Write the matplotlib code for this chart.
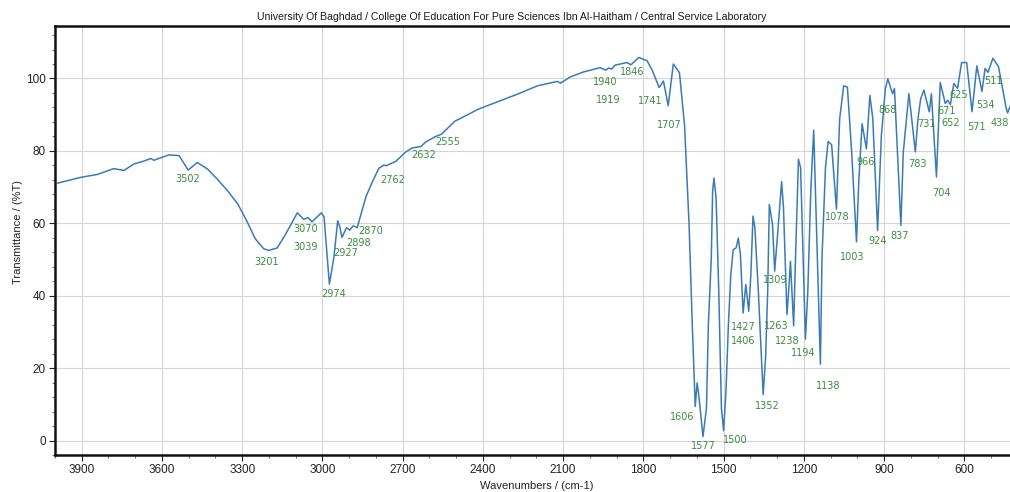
import matplotlib
matplotlib.use("Agg")
import matplotlib.pyplot as plt
from matplotlib.ticker import MultipleLocator
from matplotlib import font_manager

# ---------------- spectrum (wavenumber in cm-1, transmittance in %T) ----------------
wavenumber = [
    3990, 3903, 3842, 3780, 3742, 3705, 3667, 3642, 3630, 3605, 3574, 3536,
    3502, 3468, 3430, 3393, 3355, 3317, 3284, 3251, 3220, 3201, 3169, 3140,
    3116, 3094, 3070, 3054, 3039, 3004, 2994, 2974, 2957, 2943, 2935, 2927,
    2910, 2898, 2885, 2870, 2862, 2837, 2813, 2789, 2770, 2762, 2726, 2690,
    2665, 2632, 2615, 2579, 2555, 2505, 2467, 2418, 2369, 2270, 2195, 2121,
    2110, 2074, 2024, 1962, 1940, 1930, 1919, 1905, 1862, 1846, 1817, 1786,
    1767, 1741, 1725, 1707, 1688, 1665, 1646, 1629, 1617, 1606, 1599, 1593,
    1577, 1564, 1557, 1546, 1541, 1536, 1528, 1518, 1508, 1500, 1491, 1482,
    1473, 1464, 1453, 1445, 1437, 1427, 1417, 1406, 1398, 1390, 1383, 1370,
    1352, 1343, 1335, 1329, 1317, 1309, 1299, 1283, 1276, 1263, 1255, 1250,
    1238, 1231, 1220, 1212, 1194, 1185, 1174, 1163, 1138, 1132, 1119, 1109,
    1096, 1078, 1066, 1051, 1037, 1021, 1003, 994, 982, 966, 953, 942,
    924, 910, 895, 886, 868, 861, 837, 828, 807, 783, 773, 763,
    751, 731, 723, 704, 698, 690, 671, 662, 652, 639, 625, 610,
    591, 571, 553, 534, 522, 511, 493, 472, 443, 438, 425,
]
transmittance = [
    71.1, 72.7, 73.5, 75.1, 74.6, 76.4, 77.2, 77.9, 77.4, 78.1, 78.9, 78.7,
    74.7, 76.8, 75.0, 72.2, 69.0, 65.4, 60.8, 55.7, 53.0, 52.5, 53.2, 56.7,
    59.9, 62.9, 61.1, 61.6, 60.4, 62.9, 61.8, 43.2, 50.7, 60.7, 59.0, 56.1,
    58.8, 58.1, 59.3, 58.8, 60.9, 67.4, 71.5, 75.2, 76.1, 75.9, 77.1, 79.6,
    80.8, 81.2, 82.4, 83.9, 84.6, 88.2, 89.6, 91.5, 92.9, 95.7, 98.0, 99.2,
    98.7, 100.4, 101.8, 103.0, 102.3, 102.9, 102.6, 103.7, 104.4, 103.8, 105.8, 104.9,
    102.3, 97.5, 99.3, 92.5, 104.0, 101.6, 87.2, 59.6, 31.9, 9.4, 15.9, 12.7,
    1.1, 8.9, 31.9, 50.4, 68.8, 72.5, 67.0, 41.2, 8.9, 2.7, 13.6, 32.0,
    45.8, 52.7, 53.2, 55.9, 51.3, 35.2, 43.1, 35.7, 45.8, 62.0, 58.8, 41.3,
    12.7, 22.9, 41.3, 65.2, 59.7, 46.8, 56.0, 71.5, 64.3, 34.8, 43.1, 49.5,
    31.7, 50.5, 77.7, 75.4, 28.0, 41.3, 68.9, 85.7, 21.1, 50.5, 75.4, 82.6,
    81.7, 63.9, 88.8, 98.0, 97.6, 79.6, 54.9, 72.2, 87.5, 80.6, 95.3, 88.9,
    58.0, 84.3, 97.2, 99.9, 95.8, 97.2, 59.4, 79.7, 95.8, 79.7, 88.9, 94.4,
    96.8, 90.8, 95.8, 72.8, 84.3, 98.9, 93.1, 94.0, 92.8, 98.6, 97.3, 104.4,
    104.4, 90.8, 103.5, 96.4, 102.8, 101.7, 105.6, 103.3, 91.7, 90.5, 93.0,
]

# ---------------- peak annotations ----------------
peak_labels = [
    3502, 3201, 3070, 3039, 2974, 2927, 2898, 2870, 2762, 2632, 2555,
    1940, 1919, 1846, 1741, 1707, 1606, 1577, 1500, 1427, 1406, 1352,
    1309, 1263, 1238, 1194, 1138, 1078, 1003, 966, 924, 868, 837, 783,
    731, 704, 671, 652, 625, 571, 534, 511, 438,
]
# text offsets from each peak, in pixels (dx, dy)
label_offsets = [
    (0, -9), (-2, -12), (2, -10), (-6, -25), (4, -10), (4, -16), (9, -13),
    (13, -3), (7, -14), (3, -8), (6, -8),
    (-1, -12), (-3, -31), (1, -7), (-9, -13), (1, -19), (-13, -11), (0, -9),
    (12, -9), (0, -14), (-6, -30), (4, -11),
    (1, -9), (-11, -11), (-6, -15), (-2, -14), (8, -22), (1, -8), (-4, -15),
    (-1, -13), (0, -10), (-5, -16), (-1, -11), (2, -12),
    (-3, -12), (5, -16), (1, -8), (0, -18), (1, -7), (4, -15), (4, -13),
    (5, -9), (-8, -10),
]

title = ("University Of Baghdad / College Of Education For Pure Sciences "
         "Ibn Al-Haitham / Central Service Laboratory")
x_ticks = [3900, 3600, 3300, 3000, 2700, 2400, 2100, 1800, 1500, 1200, 900, 600]
y_ticks = [0, 20, 40, 60, 80, 100]

installed = {f.name for f in font_manager.fontManager.ttflist}
narrow = "Liberation Sans Narrow" if "Liberation Sans Narrow" in installed else "Liberation Sans"

W, H = 1010, 492
fig = plt.figure(figsize=(W / 100, H / 100), dpi=100)
fig.patch.set_facecolor("white")
ax = fig.add_axes([55 / W, 1 - 455 / H, 1 - 55 / W, (455 - 26) / H])

ax.plot(wavenumber, transmittance, color="#3a7bb6", lw=1.1, zorder=3)
ax.set_xlim(4000, 429)
ax.set_ylim(-4, 114.5)

ax.set_xticks(x_ticks)
ax.set_xticklabels([str(v) for v in x_ticks])
ax.set_yticks(y_ticks)
ax.xaxis.set_minor_locator(MultipleLocator(100))
ax.yaxis.set_minor_locator(MultipleLocator(4))
ax.tick_params(axis="both", which="major", direction="out", length=4, width=0.8,
               labelsize=8.5, colors="#222222", pad=2.5)
ax.tick_params(axis="both", which="minor", direction="out", length=2, width=0.6,
               colors="#555555")
for lab in ax.get_xticklabels() + ax.get_yticklabels():
    lab.set_family("Liberation Sans")

ax.grid(True, which="major", color="#d6d6d6", lw=0.8, zorder=0)

for side in ("left", "bottom", "top"):
    ax.spines[side].set_linewidth(1.8)
    ax.spines[side].set_color("#111111")
ax.spines["right"].set_visible(False)

lookup = dict(zip(wavenumber, transmittance))
for wn, (dx, dy) in zip(peak_labels, label_offsets):
    ax.annotate(str(wn), xy=(wn, lookup[wn]), xytext=(dx, dy),
                textcoords="offset pixels", ha="center", va="center",
                fontsize=7, color="#3c8c40", family="DejaVu Sans", zorder=4,
                annotation_clip=False)

fig.text(512 / W, 1 - 17 / H, title, ha="center", va="center", fontsize=7.6,
         family=narrow, color="#1a1a1a")
fig.text(18 / W, 1 - 232 / H, "Transmittance / (%T)", rotation=90,
         ha="center", va="center", fontsize=8, family=narrow, color="#222222")
fig.text(537 / W, 1 - 486 / H, "Wavenumbers / (cm-1)", ha="center", va="center",
         fontsize=8, family=narrow, color="#222222")

fig.savefig("out.png", dpi=100, facecolor="white")
